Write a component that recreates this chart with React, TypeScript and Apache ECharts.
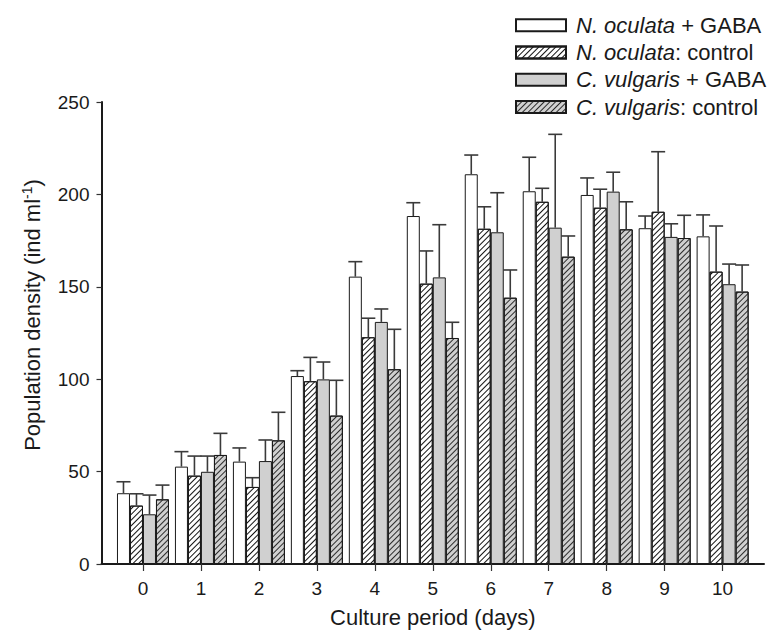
import React, { useEffect, useRef } from 'react';
import * as echarts from 'echarts';

const days = ['0', '1', '2', '3', '4', '5', '6', '7', '8', '9', '10'];

const legendItalic = ['N. oculata', 'N. oculata', 'C. vulgaris', 'C. vulgaris'];
const legendRest = [' + GABA', ': control', ' + GABA', ': control'];
const seriesNames = legendItalic.map((s, i) => s + legendRest[i]);

const nOculataGabaMean = [38.3, 52.7, 55.4, 101.7, 155.5, 188.3, 210.9, 201.7, 199.7, 181.7, 177.3];
const nOculataGabaSd = [6.2, 8.1, 7.4, 2.9, 8.1, 7.2, 10.4, 18.4, 9.2, 6.6, 11.6];
const nOculataCtrlMean = [31.6, 47.8, 41.7, 98.9, 122.7, 151.7, 181.4, 196.0, 192.8, 190.6, 158.2];
const nOculataCtrlSd = [6.4, 10.6, 5.0, 12.9, 10.3, 17.7, 11.9, 7.3, 10.0, 32.5, 24.7];
const cVulgarisGabaMean = [26.9, 49.9, 55.7, 99.9, 131.0, 155.1, 179.5, 182.0, 201.5, 177.0, 151.4];
const cVulgarisGabaSd = [10.4, 8.5, 11.4, 9.4, 7.0, 28.5, 21.4, 50.5, 10.5, 7.1, 10.9];
const cVulgarisCtrlMean = [35.0, 59.0, 66.9, 80.3, 105.4, 122.3, 144.1, 166.3, 181.1, 176.4, 147.4];
const cVulgarisCtrlSd = [7.7, 11.7, 15.2, 19.1, 21.6, 8.5, 15.0, 11.2, 14.9, 12.3, 14.4];

const yTicks = [0, 50, 100, 150, 200, 250];

const means = [nOculataGabaMean, nOculataCtrlMean, cVulgarisGabaMean, cVulgarisCtrlMean];
const sds = [nOculataGabaSd, nOculataCtrlSd, cVulgarisGabaSd, cVulgarisCtrlSd];

const FONT = "'Liberation Sans', Arial, Helvetica, sans-serif";
const BAR_W = 13;
const INK = '#1a1a1a';
const GREY = '#d0d0d0';

const hatch = (color: string) => ({
  symbol: 'rect',
  symbolSize: 1,
  dashArrayX: [1, 0],
  dashArrayY: [0.75, 2.3],
  rotation: -Math.PI / 4,
  color,
});

const barStyles = [
  { color: '#ffffff', borderColor: INK, borderWidth: 1 },
  { color: '#ffffff', borderColor: INK, borderWidth: 1, decal: hatch('#111111') },
  { color: GREY, borderColor: INK, borderWidth: 1 },
  { color: GREY, borderColor: INK, borderWidth: 1, decal: hatch('#2a2a2a') },
];

export default function App() {
  const ref = useRef<HTMLDivElement>(null);

  useEffect(() => {
    if (!ref.current) return;
    const chart = echarts.init(ref.current, null, { renderer: 'svg' });

    const barSeries = seriesNames.map((name, k) => ({
      name,
      type: 'bar',
      xAxisIndex: 0,
      yAxisIndex: 0,
      barWidth: BAR_W,
      barGap: '0%',
      data: means[k],
      itemStyle: barStyles[k],
      emphasis: { disabled: true },
    }));

    const errSeries = seriesNames.map((name, k) => ({
      type: 'custom',
      name: name + ' SD',
      xAxisIndex: 0,
      yAxisIndex: 0,
      encode: { x: 0, y: 1 },
      data: days.map((_, i) => [i, means[k][i], sds[k][i]]),
      z: 5,
      renderItem: (params: any, api: any) => {
        const x = api.value(0);
        const y = api.value(1);
        const sd = api.value(2);
        const base = api.coord([x, y]);
        const top = api.coord([x, y + sd]);
        const cx = base[0] + (k - 1.5) * BAR_W;
        const style = { stroke: '#3a3a3a', lineWidth: 1.6 };
        return {
          type: 'group',
          children: [
            { type: 'line', shape: { x1: cx, y1: base[1], x2: cx, y2: top[1] }, style },
            { type: 'line', shape: { x1: cx - 7, y1: top[1], x2: cx + 7, y2: top[1] }, style },
          ],
        };
      },
    }));

    const option: any = {
      animation: false,
      textStyle: { fontFamily: FONT },
      legend: {
        data: seriesNames,
        orient: 'vertical',
        left: 510,
        top: 6.5,
        itemWidth: 50,
        itemHeight: 12,
        itemGap: 0,
        icon: 'rect',
        selectedMode: false,
        formatter: (name: string) => {
          const i = seriesNames.indexOf(name);
          return '{i|' + legendItalic[i] + '}{n|' + legendRest[i] + '}';
        },
        textStyle: {
          fontFamily: FONT,
          fontSize: 22,
          color: INK,
          lineHeight: 27.3,
          rich: {
            i: { fontStyle: 'italic', fontSize: 22, lineHeight: 27.3, fontFamily: FONT, color: INK, padding: [0, 0, 0, 5] },
            n: { fontSize: 22, lineHeight: 27.3, fontFamily: FONT, color: INK },
          },
        },
      },
      grid: [
        { left: 114, right: 23.4, top: 102, bottom: 69 },
        { left: 101.5, right: 11, top: 102, bottom: 69 },
      ],
      xAxis: [
        {
          type: 'category',
          gridIndex: 0,
          data: days,
          axisLine: { show: false },
          axisTick: { show: true, alignWithLabel: true, interval: 0, length: 7, lineStyle: { color: '#333', width: 1.2 } },
          axisLabel: { interval: 0, margin: 15, fontSize: 19, color: INK, fontFamily: FONT },
          splitLine: { show: false },
        },
        {
          type: 'value',
          gridIndex: 1,
          min: 0,
          max: 1,
          axisLine: { show: true, lineStyle: { color: INK, width: 2 } },
          axisTick: { show: false },
          axisLabel: { show: false },
          splitLine: { show: false },
          name: 'Culture period (days)',
          nameLocation: 'middle',
          nameGap: 42,
          nameTextStyle: { fontSize: 22, color: INK, fontFamily: FONT },
        },
      ],
      yAxis: [
        {
          type: 'value',
          gridIndex: 0,
          min: yTicks[0],
          max: yTicks[yTicks.length - 1],
          interval: 50,
          show: false,
          splitLine: { show: false },
        },
        {
          type: 'value',
          gridIndex: 1,
          min: yTicks[0],
          max: yTicks[yTicks.length - 1],
          interval: 50,
          axisLine: { show: true, lineStyle: { color: INK, width: 2 } },
          axisTick: { show: true, length: 5, lineStyle: { color: '#333', width: 1.2 } },
          axisLabel: { margin: 12, fontSize: 19, color: INK, fontFamily: FONT },
          splitLine: { show: false },
          name: '{a|Population density (ind ml}{s|-1}{a|)}',
          nameLocation: 'middle',
          nameGap: 56,
          nameRotate: 90,
          nameTextStyle: {
            fontFamily: FONT,
            color: INK,
            padding: [0, 0, 0, 36],
            rich: {
              a: { fontSize: 22, fontFamily: FONT, color: INK },
              s: { fontSize: 14, fontFamily: FONT, color: INK, padding: [0, 0, 12, 0] },
            },
          },
        },
      ],
      series: [...barSeries, ...errSeries],
    };

    chart.setOption(option);
    return () => chart.dispose();
  }, []);

  return (
    <div
      ref={ref}
      style={{ position: 'fixed', left: 0, top: 0, width: 775, height: 633, background: '#fff' }}
    />
  );
}
